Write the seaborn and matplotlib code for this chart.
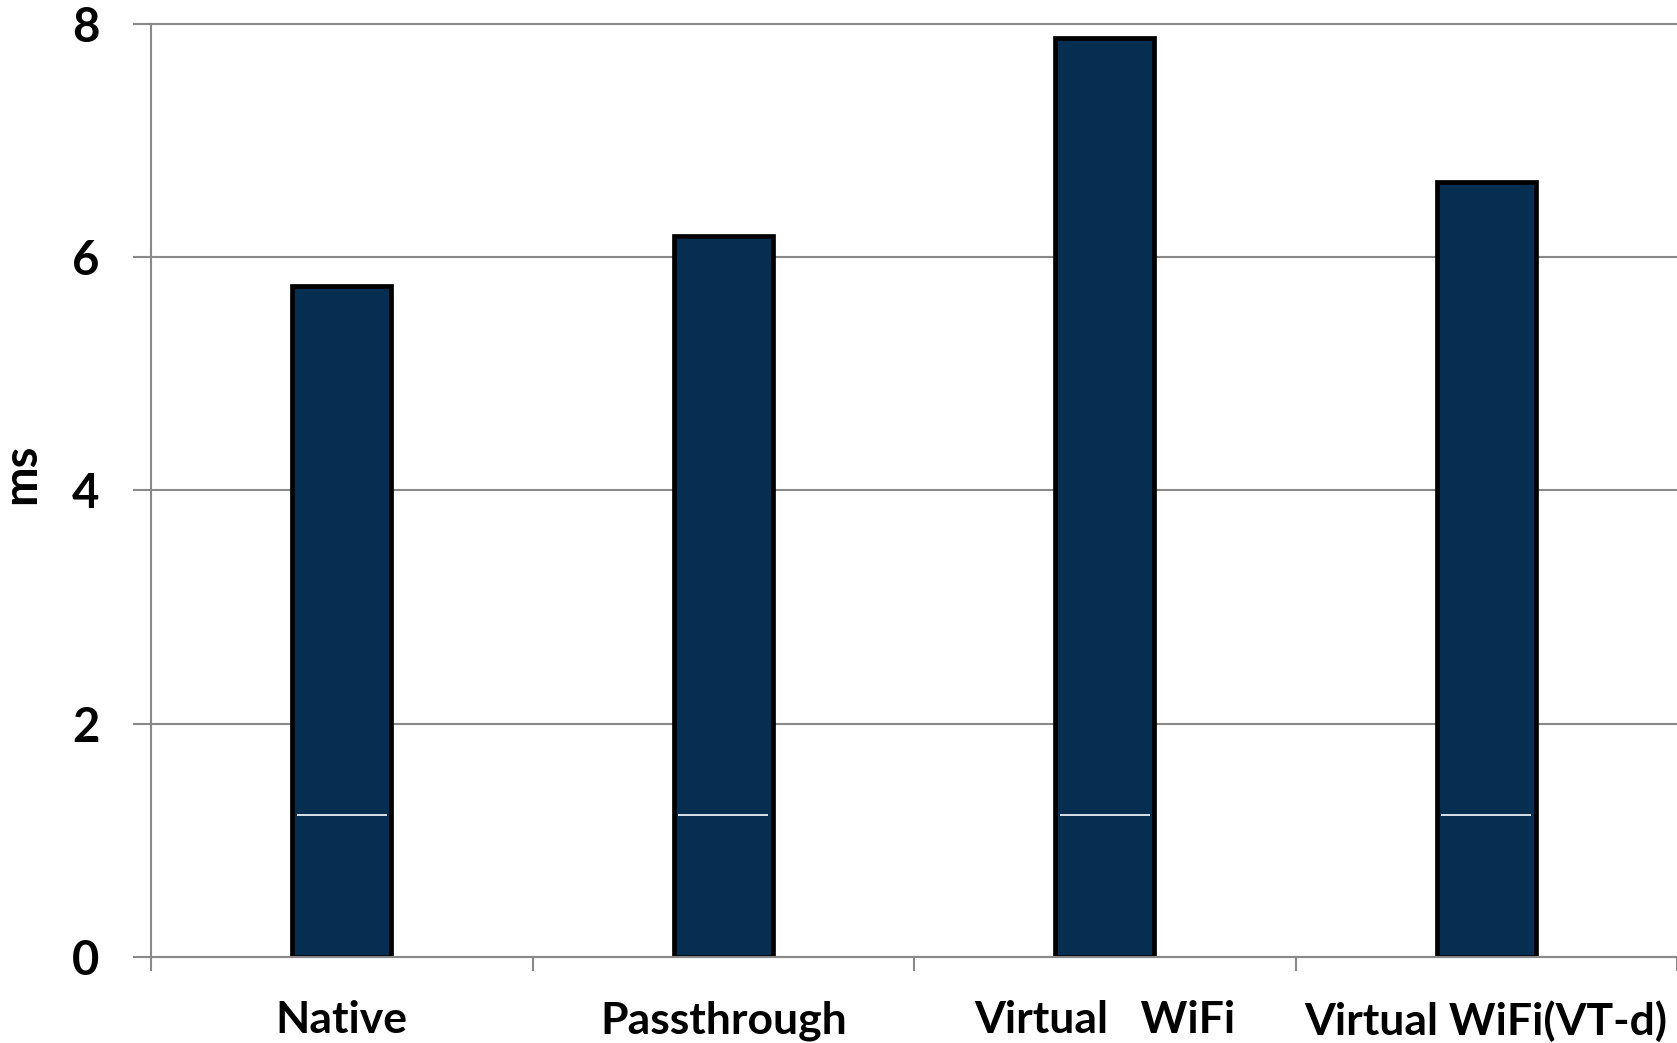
import matplotlib
matplotlib.use("Agg")
import matplotlib.pyplot as plt
import seaborn as sns
import pandas as pd
import numpy as np

categories = ["Native", "Passthrough", "Virtual   WiFi", "Virtual WiFi(VT-d)"]
values = [5.75, 6.18, 7.88, 6.64]
base_values = [1.22, 1.22, 1.22, 1.22]
y_ticks = [0, 2, 4, 6, 8]

sns.set_theme(style="white")
plt.rcParams['font.family'] = ['Lato', 'DejaVu Sans']

BAR_COLOR = "#062E51"
GRAY = "#898989"
W, H, DPI = 1677, 1043, 100

df = pd.DataFrame({"cat": categories, "val": values})

fig = plt.figure(figsize=(W / DPI, H / DPI), dpi=DPI)
ax = fig.add_axes([151 / W, 1 - 957 / H, (W - 151) / W, (957 - 23.5) / H])

bar_w = 0.26
sns.barplot(data=df, x="cat", y="val", ax=ax, color=BAR_COLOR, width=bar_w,
            edgecolor="black", linewidth=3.4, saturation=1)

# white separator line inside each bar
xs = np.arange(len(categories))
ax.hlines(base_values, xs - bar_w / 2 + 0.012, xs + bar_w / 2 - 0.012,
          color="white", linewidth=1.2, zorder=5)

ax.set_xlim(-0.5, len(categories) - 0.5)
ax.set_ylim(0, 8)
ax.set_yticks(y_ticks)
ax.set_yticklabels([str(t) for t in y_ticks], fontsize=34, fontweight="bold")
ax.set_xticks(xs)
ax.set_xticklabels(categories, fontsize=32, fontweight="bold")
ax.set_xticks(np.arange(-0.5, len(categories), 1.0), minor=True)

ax.set_axisbelow(True)
ax.yaxis.grid(True, color=GRAY, linewidth=1.5)
ax.xaxis.grid(False)
for gl in ax.get_ygridlines():
    gl.set_clip_on(False)

for side in ["top", "right"]:
    ax.spines[side].set_visible(False)
for side in ["left", "bottom"]:
    ax.spines[side].set_color(GRAY)
    ax.spines[side].set_linewidth(1.5)

ax.tick_params(axis="y", which="major", direction="out", length=13, width=1.5,
               color=GRAY, pad=24, labelcolor="black", left=True)
ax.tick_params(axis="x", which="major", length=0, pad=31, labelcolor="black")
ax.tick_params(axis="x", which="minor", direction="out", length=10, width=1.5,
               color=GRAY, bottom=True)

ax.set_xlabel("")
ax.set_ylabel("ms", fontsize=34, fontweight="bold", color="black")
ax.yaxis.set_label_coords(-0.071, 0.518)

fig.savefig("out.png", dpi=DPI, facecolor="white")
